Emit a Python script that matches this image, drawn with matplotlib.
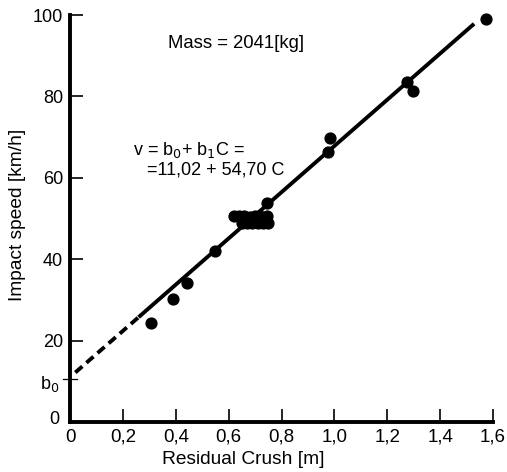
import matplotlib
matplotlib.use("Agg")
import matplotlib.pyplot as plt
import numpy as np

plt.rcParams['font.family'] = ['Liberation Sans', 'DejaVu Sans']

# Data points (residual crush [m], impact speed [km/h])
crush = [0.305, 0.388, 0.441, 0.55, 0.62, 0.64, 0.66, 0.68, 0.70, 0.72, 0.745,
         0.65, 0.67, 0.69, 0.71, 0.73, 0.75, 0.744, 0.977, 0.983, 1.273, 1.298, 1.573]
speed = [24.4, 30.1, 34.1, 42.1, 50.6, 50.6, 50.5, 50.4, 50.5, 50.5, 50.5,
         49.0, 49.0, 49.0, 49.0, 49.0, 49.0, 53.7, 66.4, 69.7, 83.6, 81.4, 98.9]

# Regression line as drawn
b0 = 11.02
b1_drawn = 56.8
dash_x = [0.02, 0.265]
solid_x = [0.265, 1.523]

xticks = [0, 0.2, 0.4, 0.6, 0.8, 1.0, 1.2, 1.4, 1.6]
xtick_labels = ['0', '0,2', '0,4', '0,6', '0,8', '1,0', '1,2', '1,4', '1,6']
yticks = [20, 40, 60, 80, 100]
ytick_labels = ['20', '40', '60', '80', '100']

fig = plt.figure(figsize=(5.07, 4.72), dpi=100)
ax = fig.add_axes([70/507, 50/472, 423/507, 407/472])
ax.set_xlim(0, 1.6)
ax.set_ylim(0, 100)

dx = np.array(dash_x)
sx = np.array(solid_x)
ax.plot(dx, b0 + b1_drawn * dx, color='black', lw=2.8, ls=(0, (2.4, 1.4)), solid_capstyle='butt')
ax.plot(sx, b0 + b1_drawn * sx, color='black', lw=2.8)
ax.plot(crush, speed, 'o', color='black', ms=7.8, clip_on=False)

for s in ['top', 'right']:
    ax.spines[s].set_visible(False)
for s in ['left', 'bottom']:
    ax.spines[s].set_linewidth(2.8)

ax.set_xticks(xticks)
ax.set_xticklabels(xtick_labels)
ax.set_yticks(yticks)
ax.set_yticklabels(ytick_labels)
ax.tick_params(direction='in', length=9.5, width=1.2, pad=5)
ax.tick_params(axis='x', labelsize=13.5)
ax.tick_params(axis='y', labelsize=13)

# "0" label on y axis and b0 marker
ax.text(-0.04, 0.5, '0', ha='right', va='center', fontsize=13)
ax.plot([-0.025, 0.025], [b0 - 0.5, b0 - 0.5], color='black', lw=0.9, clip_on=False)
ax.text(-0.04, b0 - 1.8, r'b$_0$', ha='right', va='center', fontsize=13)

ax.text(0.37, 93, 'Mass = 2041[kg]', fontsize=13.3, va='center', ha='left')
ax.text(0.24, 66.8, r'v = b$_0$+ b$_1$C =', fontsize=13, va='center', ha='left')
ax.text(0.29, 62, '=11,02 + 54,70 C', fontsize=13, va='center', ha='left')

ax.set_xlabel('Residual Crush [m]', fontsize=13.8)
ax.xaxis.set_label_coords(0.655 / 1.6, -(460 - 422) / 407, transform=ax.transAxes)
ax.set_ylabel('Impact speed [km/h]', fontsize=13.8)
ax.yaxis.set_label_coords(-(70 - 18) / 423, 51 / 100, transform=ax.transAxes)
ax.xaxis.label.set_va('center')
ax.yaxis.label.set_va('center')

fig.savefig('out.png', dpi=100)
